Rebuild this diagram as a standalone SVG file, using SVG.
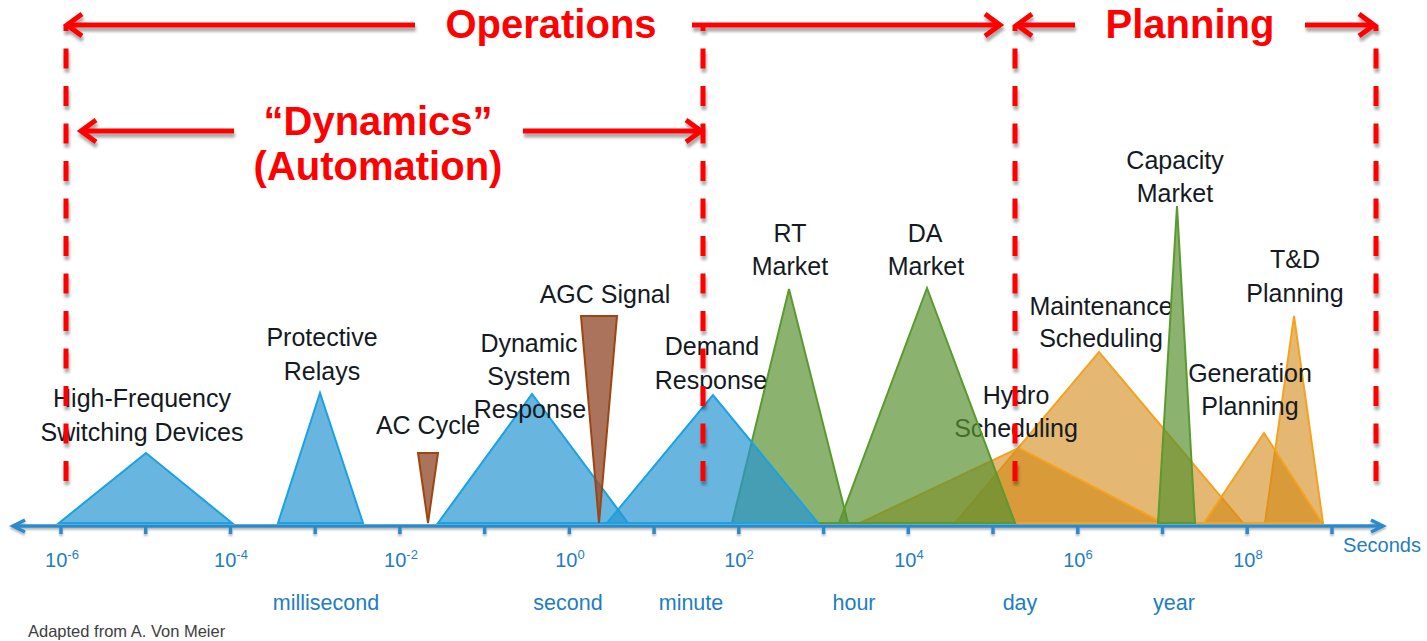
<svg xmlns="http://www.w3.org/2000/svg" width="1427" height="641" viewBox="0 0 1427 641">
<defs>
<filter id="shadow" x="-20%" y="-20%" width="140%" height="140%">
<feDropShadow dx="1" dy="4" stdDeviation="1.6" flood-color="#000" flood-opacity="0.35"/>
</filter>
<filter id="ashadow" x="-5%" y="-50%" width="110%" height="300%">
<feDropShadow dx="0" dy="2" stdDeviation="1.2" flood-color="#000" flood-opacity="0.3"/>
</filter>
</defs>
<style>
.lbl{font-family:"Liberation Sans",Arial,sans-serif;font-size:25px;fill:#141a22;text-anchor:middle}
.tick{font-family:"Liberation Sans",Arial,sans-serif;font-size:20px;fill:#1e7dc3;text-anchor:middle}
.unit{font-family:"Liberation Sans",Arial,sans-serif;font-size:21.5px;fill:#1e7dc3;text-anchor:middle}
.red{font-family:"Liberation Sans",Arial,sans-serif;font-weight:bold;font-size:40px;fill:#ff0000;text-anchor:middle}
.blue{fill:rgb(40,150,210);fill-opacity:0.7;stroke:#1aa2e2;stroke-width:2;stroke-linejoin:miter}
.green{fill:rgb(90,145,50);fill-opacity:0.7;stroke:#5a9a2e;stroke-width:2}
.orange{fill:rgb(210,135,20);fill-opacity:0.6;stroke:#f5a21e;stroke-width:2}
.brown{fill:rgb(150,80,50);fill-opacity:0.8;stroke:#9c4612;stroke-width:2}
.arrow{stroke:#ff0000;stroke-width:5;fill:none}
.dash{stroke:#ff0000;stroke-width:5;fill:none;stroke-dasharray:20 17.5;stroke-dashoffset:14}
.axisline{stroke:#2b8bcb;stroke-width:3.5;fill:none}
</style>

<g id="axis" filter="url(#ashadow)">
<line class="axisline" x1="13" y1="526" x2="1382" y2="526"/>
<polyline class="axisline" points="25,520 13,526 25,532"/>
<polyline class="axisline" points="1371,520 1383,526 1371,532"/>
<path class="axisline" stroke-width="3" d="M61,526V534M145.7,526V534M230.5,526V534M315.2,526V534M399.9,526V534M484.7,526V534M569.4,526V534M654.1,526V534M738.8,526V534M823.6,526V534M908.3,526V534M993,526V534M1077.8,526V534M1162.5,526V534M1247.2,526V534M1332,526V534"/>
</g>

<g id="axis-labels">
<text class="tick" x="62" y="567">10<tspan dy="-8" font-size="13">-6</tspan></text>
<text class="tick" x="231" y="567">10<tspan dy="-8" font-size="13">-4</tspan></text>
<text class="tick" x="401" y="567">10<tspan dy="-8" font-size="13">-2</tspan></text>
<text class="tick" x="570" y="567">10<tspan dy="-8" font-size="13">0</tspan></text>
<text class="tick" x="739" y="567">10<tspan dy="-8" font-size="13">2</tspan></text>
<text class="tick" x="909" y="567">10<tspan dy="-8" font-size="13">4</tspan></text>
<text class="tick" x="1078" y="567">10<tspan dy="-8" font-size="13">6</tspan></text>
<text class="tick" x="1248" y="567">10<tspan dy="-8" font-size="13">8</tspan></text>
<text class="tick" x="1382" y="552">Seconds</text>
<text class="unit" x="326" y="610">millisecond</text>
<text class="unit" x="568" y="610">second</text>
<text class="unit" x="691" y="610">minute</text>
<text class="unit" x="854" y="610">hour</text>
<text class="unit" x="1020" y="610">day</text>
<text class="unit" x="1174" y="610">year</text>
<text x="28" y="637" font-family="Liberation Sans, Arial, sans-serif" font-size="16.5" fill="#404040">Adapted from A. Von  Meier</text>
</g>

<!-- orange nodes -->
<g id="maintenance-scheduling">
<polygon class="orange" points="955,523 1099,352 1243,523"/>
<text class="lbl" x="1101" y="315">Maintenance</text>
<text class="lbl" x="1101" y="347">Scheduling</text>
</g>
<g id="hydro-scheduling">
<polygon class="orange" points="860,523 1019,448 1163,523"/>
<text class="lbl" x="1016" y="404">Hydro</text>
<text class="lbl" x="1016" y="437">Scheduling</text>
</g>
<g id="td-planning">
<polygon class="orange" points="1265,523 1294,316 1323,523"/>
<text class="lbl" x="1295" y="268">T&amp;D</text>
<text class="lbl" x="1295" y="302">Planning</text>
</g>
<g id="generation-planning">
<polygon class="orange" points="1204,523 1264,433 1322,523"/>
<text class="lbl" x="1250" y="382">Generation</text>
<text class="lbl" x="1250" y="415">Planning</text>
</g>

<!-- green nodes -->
<g id="capacity-market">
<polygon class="green" points="1158,523 1177,206 1195,523"/>
<text class="lbl" x="1175" y="169">Capacity</text>
<text class="lbl" x="1175" y="202">Market</text>
</g>
<g id="rt-market">
<polygon class="green" points="732,523 789,289 848,523"/>
<text class="lbl" x="790" y="242">RT</text>
<text class="lbl" x="790" y="275">Market</text>
</g>
<g id="da-market">
<polygon class="green" points="839,523 927,288 1015,523"/>
<text class="lbl" x="925" y="242">DA</text>
<text class="lbl" x="926" y="275">Market</text>
</g>

<!-- blue nodes -->
<g id="hf-switching">
<polygon class="blue" points="59,523 146,453 232,523"/>
<text class="lbl" x="142" y="407">High-Frequency</text>
<text class="lbl" x="142" y="441">Switching Devices</text>
</g>
<g id="protective-relays">
<polygon class="blue" points="278,523 320,393 363,523"/>
<text class="lbl" x="322" y="346">Protective</text>
<text class="lbl" x="322" y="380">Relays</text>
</g>
<g id="dynamic-system-response">
<polygon class="blue" points="438,523 532,394 628,523"/>
<text class="lbl" x="529" y="352">Dynamic</text>
<text class="lbl" x="529" y="385">System</text>
<text class="lbl" x="530" y="418">Response</text>
</g>
<g id="demand-response">
<polygon class="blue" points="607,523 713,395 818,523"/>
<text class="lbl" x="712" y="355">Demand</text>
<text class="lbl" x="711" y="389">Response</text>
</g>

<!-- brown nodes -->
<g id="ac-cycle">
<polygon class="brown" points="418,453 438,453 428,523"/>
<text class="lbl" x="428" y="434">AC Cycle</text>
</g>
<g id="agc-signal">
<polygon class="brown" points="581,316 617,316 599,523"/>
<text class="lbl" x="605" y="303">AGC Signal</text>
</g>

<!-- red range markers -->
<g id="ranges" filter="url(#shadow)">
<line class="dash" x1="66" y1="25" x2="66" y2="481"/>
<line class="dash" x1="703" y1="25" x2="703" y2="481"/>
<line class="dash" x1="1015" y1="25" x2="1015" y2="481"/>
<line class="dash" x1="1376" y1="25" x2="1376" y2="481"/>
<line class="arrow" x1="68" y1="25" x2="415" y2="25"/>
<polyline class="arrow" points="82,14 67,25 82,36"/>
<line class="arrow" x1="692" y1="25" x2="999" y2="25"/>
<polyline class="arrow" points="985,14 1000,25 985,36"/>
<line class="arrow" x1="1019" y1="25" x2="1075" y2="25"/>
<polyline class="arrow" points="1032,14 1017,25 1032,36"/>
<line class="arrow" x1="1305" y1="25" x2="1372" y2="25"/>
<polyline class="arrow" points="1359,14 1374,25 1359,36"/>
<line class="arrow" x1="82" y1="131" x2="234" y2="131"/>
<polyline class="arrow" points="96,120 81,131 96,142"/>
<line class="arrow" x1="523" y1="131" x2="700" y2="131"/>
<polyline class="arrow" points="686,120 701,131 686,142"/>
</g>
<g id="range-labels">
<text class="red" x="551" y="38">Operations</text>
<text class="red" x="1190" y="38">Planning</text>
<text class="red" x="378" y="135">“Dynamics”</text>
<text class="red" x="378" y="180">(Automation)</text>
</g>
</svg>
